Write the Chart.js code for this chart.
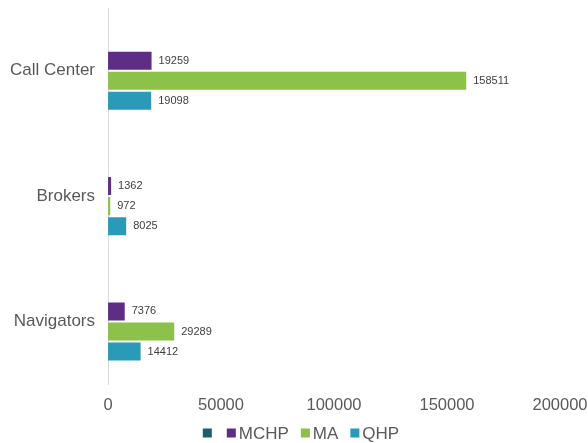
<!DOCTYPE html>
<html><head><meta charset="utf-8">
<script src="https://cdn.jsdelivr.net/npm/chart.js@4"></script>
<style>html,body{margin:0;padding:0;background:#fff}#wrap{width:588px;height:443px}</style>
</head><body><div id="wrap"><canvas id="c"></canvas></div>
<script>
const categories = ["Call Center", "Brokers", "Navigators"];
const blankValues = [0, 0, 0];
const mchpValues = [19259, 1362, 7376];
const maValues = [158511, 972, 29289];
const qhpValues = [19098, 8025, 14412];
const xTicks = [0, 50000, 100000, 150000, 200000];

const FONT = '"Liberation Sans", Arial, sans-serif';

const labelPlugin = {
  id: 'barLabels',
  afterDatasetsDraw(chart) {
    const ctx = chart.ctx;
    ctx.save();
    ctx.font = '11px ' + FONT;
    ctx.fillStyle = '#404040';
    ctx.textBaseline = 'middle';
    chart.data.datasets.forEach((ds, i) => {
      if (!ds.showLabels) return;
      chart.getDatasetMeta(i).data.forEach((bar, j) => {
        ctx.fillText(String(ds.data[j]), bar.x + 7, bar.y);
      });
    });
    ctx.restore();
  }
};

const legendPlugin = {
  id: 'customLegend',
  afterDraw(chart) {
    const ctx = chart.ctx;
    ctx.save();
    ctx.font = '17px ' + FONT;
    ctx.textBaseline = 'middle';
    const box = 9, gap = 3, spacing = 12;
    const items = chart.data.datasets.map(ds => ({
      label: ds.label, color: ds.backgroundColor, w: ctx.measureText(ds.label).width
    }));
    let total = 0;
    items.forEach((it, i) => { total += box + gap + it.w + (i < items.length - 1 ? spacing : 0); });
    let x = chart.width / 2 + 7 - total / 2;
    const y = 433;
    items.forEach(it => {
      ctx.fillStyle = it.color;
      ctx.fillRect(x, y - box / 2, box, box);
      x += box + gap;
      ctx.fillStyle = '#595959';
      ctx.fillText(it.label, x, y + 1);
      x += it.w + spacing;
    });
    ctx.restore();
  }
};

new Chart(document.getElementById('c'), {
  type: 'bar',
  data: {
    labels: categories,
    datasets: [
      {label: '', data: blankValues, backgroundColor: '#1C5F6E', showLabels: false},
      {label: 'MCHP', data: mchpValues, backgroundColor: '#5E2D86', showLabels: true},
      {label: 'MA', data: maValues, backgroundColor: '#8CC24A', showLabels: true},
      {label: 'QHP', data: qhpValues, backgroundColor: '#2A9AB8', showLabels: true}
    ]
  },
  options: {
    indexAxis: 'y',
    responsive: true,
    maintainAspectRatio: false,
    animation: false,
    categoryPercentage: 0.64,
    barPercentage: 0.9,
    layout: {padding: {top: 8, right: 0, left: -3, bottom: 17}},
    plugins: {
      tooltip: {enabled: false},
      legend: {display: false}
    },
    scales: {
      x: {
        min: 0, max: 200000,
        afterBuildTicks(axis) { axis.ticks = xTicks.map(v => ({value: v})); },
        afterFit(axis) { axis.paddingRight = 28; axis.paddingLeft = 0; },
        grid: {display: false, drawTicks: false},
        border: {display: false},
        ticks: {color: '#595959', padding: 11, font: {size: 16.5, family: FONT},
                callback: (v) => String(v)}
      },
      y: {
        afterFit(axis) { axis.paddingTop = 0; axis.paddingBottom = 0; },
        grid: {display: false, drawTicks: false},
        border: {display: true, color: '#D9D9D9', width: 1},
        ticks: {color: '#595959', padding: 13, font: {size: 17, family: FONT}}
      }
    }
  },
  plugins: [labelPlugin, legendPlugin]
});
</script></body></html>
